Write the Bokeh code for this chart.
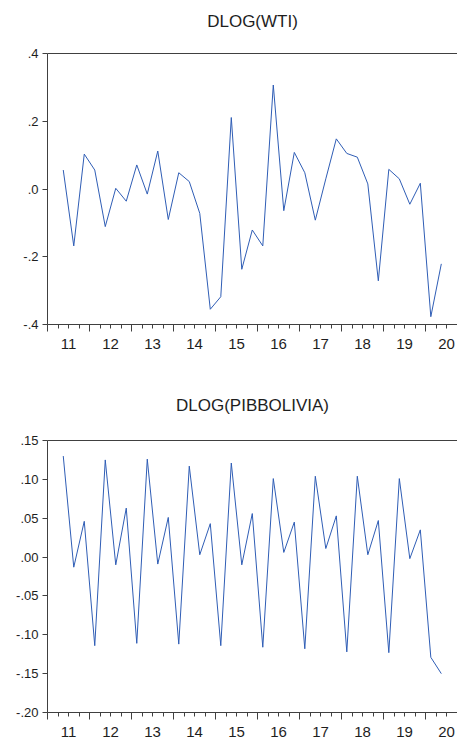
from bokeh.plotting import figure
from bokeh.models import FixedTicker, LinearAxis, Range1d
from bokeh.layouts import column
from bokeh.embed import file_html
from bokeh.resources import INLINE

# ---- data ----
quarters = ["2011Q2", "2011Q3", "2011Q4",
            "2012Q1", "2012Q2", "2012Q3", "2012Q4",
            "2013Q1", "2013Q2", "2013Q3", "2013Q4",
            "2014Q1", "2014Q2", "2014Q3", "2014Q4",
            "2015Q1", "2015Q2", "2015Q3", "2015Q4",
            "2016Q1", "2016Q2", "2016Q3", "2016Q4",
            "2017Q1", "2017Q2", "2017Q3", "2017Q4",
            "2018Q1", "2018Q2", "2018Q3", "2018Q4",
            "2019Q1", "2019Q2", "2019Q3", "2019Q4",
            "2020Q1", "2020Q2"]

dlog_wti = [0.056, -0.168, 0.103, 0.056,
            -0.111, 0.002, -0.036, 0.071,
            -0.015, 0.112, -0.090, 0.048,
            0.022, -0.072, -0.355, -0.318,
            0.211, -0.237, -0.121, -0.168,
            0.307, -0.064, 0.108, 0.048,
            -0.092, 0.030, 0.148, 0.105,
            0.094, 0.015, -0.271, 0.058,
            0.030, -0.045, 0.017, -0.377,
            -0.221]

dlog_pib = [0.130, -0.013, 0.046, -0.114,
            0.125, -0.010, 0.063, -0.111,
            0.126, -0.009, 0.051, -0.112,
            0.117, 0.003, 0.043, -0.114,
            0.121, -0.010, 0.056, -0.116,
            0.101, 0.006, 0.045, -0.118,
            0.104, 0.011, 0.053, -0.122,
            0.104, 0.003, 0.047, -0.123,
            0.101, -0.002, 0.035, -0.129,
            -0.150]

year_labels = ["11", "12", "13", "14", "15", "16", "17", "18", "19", "20"]
years = [2011, 2012, 2013, 2014, 2015, 2016, 2017, 2018, 2019, 2020]

wti_ticks = [-0.4, -0.2, 0.0, 0.2, 0.4]
wti_tick_labels = ["-.4", "-.2", ".0", ".2", ".4"]

pib_ticks = [-0.20, -0.15, -0.10, -0.05, 0.0, 0.05, 0.10, 0.15]
pib_tick_labels = ["-.20", "-.15", "-.10", "-.05", ".00", ".05", ".10", ".15"]

# x positions: quarter mid-points, in years
xq = [int(q[:4]) + (int(q[5]) - 0.5) / 4 for q in quarters]
year_starts = years
year_mids = [y + 0.5 for y in years]
quarter_ticks = [y + k / 4 for y in years for k in (1, 2, 3)]

LINE = "#2f5db5"
AX = "#404040"
TXT = "#1e1e1e"
FONT = "Liberation Sans"


def panel(title, values, yticks, ylabels, height, border_top, border_bottom, title_gap):
    p = figure(width=457, height=height, output_backend="svg", toolbar_location=None,
               x_range=Range1d(2011, 2020.76),
               y_range=Range1d(yticks[0], yticks[-1]),
               x_axis_location=None, y_axis_location="left",
               min_border_left=47, min_border_right=0,
               min_border_top=border_top, min_border_bottom=border_bottom)
    p.grid.visible = False
    p.outline_line_color = None
    p.background_fill_color = "white"
    p.border_fill_color = "white"

    p.title.text = title
    p.title.align = "center"
    p.title.text_font = FONT
    p.title.text_font_size = "17px"
    p.title.text_font_style = "normal"
    p.title.text_color = TXT
    p.title.standoff = 0

    ya = p.yaxis[0]
    ya.ticker = FixedTicker(ticks=yticks)
    ya.major_label_overrides = dict(zip(yticks, ylabels))
    ya.major_tick_in = 0
    ya.major_tick_out = 5
    ya.minor_tick_in = 0
    ya.minor_tick_out = 0
    ya.major_label_standoff = 4
    ya.axis_line_color = AX
    ya.major_tick_line_color = AX
    ya.major_label_text_font = FONT
    ya.major_label_text_font_size = "13px"
    ya.major_label_text_color = TXT

    # top frame line (empty axis); its invisible tick spaces the title from the frame
    top = LinearAxis(ticker=FixedTicker(ticks=[year_starts[0]]),
                     major_tick_in=0, major_tick_out=title_gap,
                     minor_tick_in=0, minor_tick_out=0,
                     major_label_overrides={year_starts[0]: ""},
                     major_label_text_font_size="0px", major_label_standoff=0,
                     axis_line_color=AX, major_tick_line_color=None)
    p.add_layout(top, "above")

    # tick axis (year boundaries long, quarters short)
    xa = LinearAxis(ticker=FixedTicker(ticks=year_starts, minor_ticks=quarter_ticks),
                    major_tick_in=0, major_tick_out=7,
                    minor_tick_in=0, minor_tick_out=4,
                    major_label_overrides={t: "" for t in year_starts},
                    major_label_text_font_size="0px", major_label_standoff=0,
                    axis_line_color=AX, major_tick_line_color=AX,
                    minor_tick_line_color=AX)
    p.add_layout(xa, "below")

    # label axis (year labels centred in each year)
    xl = LinearAxis(ticker=FixedTicker(ticks=year_mids),
                    major_tick_in=0, major_tick_out=0,
                    minor_tick_in=0, minor_tick_out=0,
                    axis_line_color=None, major_tick_line_color=None,
                    major_label_overrides=dict(zip(year_mids, year_labels)),
                    major_label_text_font=FONT, major_label_text_font_size="15px",
                    major_label_text_color=TXT, major_label_standoff=7)
    p.add_layout(xl, "below")

    p.line(xq, values, line_color=LINE, line_width=1)
    return p


p1 = panel("DLOG(WTI)", dlog_wti, wti_ticks, wti_tick_labels,
           height=368, border_top=53, border_bottom=44, title_gap=23)
p2 = panel("DLOG(PIBBOLIVIA)", dlog_pib, pib_ticks, pib_tick_labels,
           height=372, border_top=72, border_bottom=28, title_gap=26)

layout = column(p1, p2, spacing=0)
open("out.html", "w").write(file_html(layout, INLINE))
